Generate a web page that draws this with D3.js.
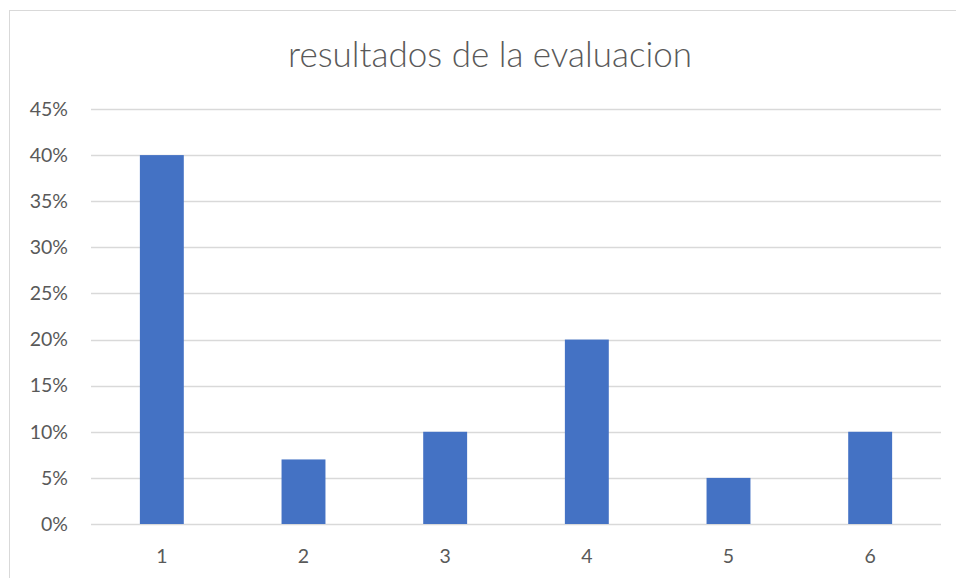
<!DOCTYPE html>
<html>
<head>
<meta charset="utf-8">
<script src="https://cdn.jsdelivr.net/npm/d3@7"></script>
<style>
  body { margin: 0; background: #fff; }
  svg { display: block; font-family: Lato, "Open Sans", sans-serif; }
</style>
</head>
<body>
<div class="diagram"></div>
<script>
const categories = ["1", "2", "3", "4", "5", "6"];
const values = [0.40, 0.07, 0.10, 0.20, 0.05, 0.10];
const yTicks = [0, 0.05, 0.10, 0.15, 0.20, 0.25, 0.30, 0.35, 0.40, 0.45];
const title = "resultados de la evaluacion";

const W = 956, H = 578,
      plotLeft = 91, plotRight = 941, plotTop = 109, plotBottom = 524;

const svg = d3.select(".diagram")
  .append("svg")
  .attr("width", W)
  .attr("height", H);

// chart area border
svg.append("rect")
  .attr("x", 9.5).attr("y", 10.5)
  .attr("width", 970).attr("height", 600)
  .attr("fill", "none")
  .attr("stroke", "#d9d9d9")
  .attr("stroke-width", 1);

const x = d3.scaleBand()
  .domain(categories)
  .range([plotLeft, plotRight])
  .paddingInner(0.69)
  .paddingOuter(0.345);

const y = d3.scaleLinear()
  .domain([0, 0.45])
  .range([plotBottom, plotTop]);

// gridlines
svg.append("g")
  .selectAll("line")
  .data(yTicks)
  .enter()
  .append("line")
  .attr("x1", plotLeft).attr("x2", plotRight)
  .attr("y1", d => Math.round(y(d)) + 0.5)
  .attr("y2", d => Math.round(y(d)) + 0.5)
  .attr("stroke", "#d9d9d9")
  .attr("stroke-width", 1.3);

// bars
svg.append("g")
  .selectAll("rect")
  .data(values)
  .enter()
  .append("rect")
  .attr("x", (d, i) => x(categories[i]))
  .attr("width", x.bandwidth())
  .attr("y", d => y(d))
  .attr("height", d => y(0) - y(d))
  .attr("fill", "#4472c4");

// y axis labels
const yAxis = d3.axisLeft(y)
  .tickValues(yTicks)
  .tickFormat(d3.format(".0%"))
  .tickSize(0)
  .tickPadding(0);
svg.append("g")
  .attr("transform", "translate(" + 68 + ",0)")
  .call(yAxis)
  .call(g => g.select(".domain").remove())
  .selectAll("text")
  .attr("font-size", 19.5)
  .attr("font-family", "Lato, sans-serif")
  .attr("fill", "#595959");

// x axis labels
const xAxis = d3.axisBottom(x)
  .tickSize(0)
  .tickPadding(0);
svg.append("g")
  .attr("transform", "translate(0," + 549 + ")")
  .call(xAxis)
  .call(g => g.select(".domain").remove())
  .selectAll("text")
  .attr("font-size", 19.5)
  .attr("font-family", "Lato, sans-serif")
  .attr("fill", "#595959");

svg.append("text")
  .attr("x", 490)
  .attr("y", 67)
  .attr("text-anchor", "middle")
  .attr("font-size", 35)
  .attr("font-weight", 300)
  .attr("fill", "#595959")
  .text(title);
</script>
</body>
</html>
